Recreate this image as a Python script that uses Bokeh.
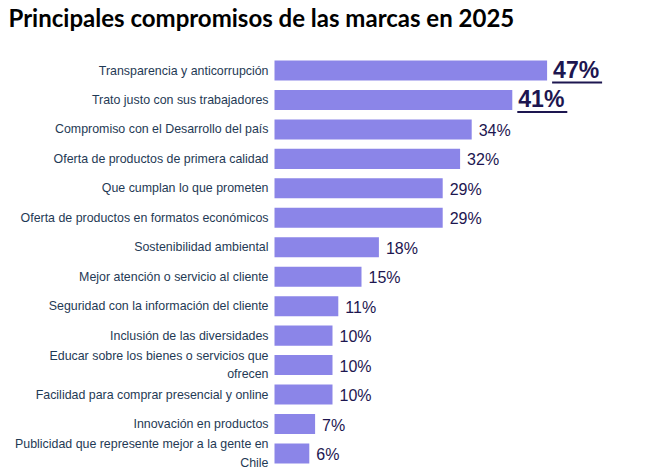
from bokeh.plotting import figure
from bokeh.models import Range1d, Label, ColumnDataSource
from bokeh.core.properties import value
from bokeh.embed import file_html
from bokeh.resources import INLINE

categories = [
    "Transparencia y anticorrupción",
    "Trato justo con sus trabajadores",
    "Compromiso con el Desarrollo del país",
    "Oferta de productos de primera calidad",
    "Que cumplan lo que prometen",
    "Oferta de productos en formatos económicos",
    "Sostenibilidad ambiental",
    "Mejor atención o servicio al cliente",
    "Seguridad con la información del cliente",
    "Inclusión de las diversidades",
    "Educar sobre los bienes o servicios que\nofrecen",
    "Facilidad para comprar presencial y online",
    "Innovación en productos",
    "Publicidad que represente mejor a la gente en\nChile",
]
values = [47, 41, 34, 32, 29, 29, 18, 15, 11, 10, 10, 10, 7, 6]
highlight = [True, True] + [False] * 12
title_text = "Principales compromisos de las marcas en 2025"

W, H = 646, 470
px_per_pct = 5.8
x0_px = 274
row_px = 29.46
row0_px = 70

p = figure(width=W, height=H, output_backend="svg", toolbar_location=None,
           min_border=0, min_border_left=0, min_border_right=0,
           min_border_top=0, min_border_bottom=0)
p.x_range = Range1d(-x0_px / px_per_pct, (W - x0_px) / px_per_pct)
p.y_range = Range1d((H - row0_px) / row_px, -row0_px / row_px)
p.axis.visible = False
p.grid.visible = False
p.outline_line_color = None
p.background_fill_color = "white"
p.border_fill_color = "white"

rows = list(range(len(categories)))
src = ColumnDataSource(dict(y=rows, v=values, cat=categories))
p.hbar(y="y", left=0, right="v", height=0.68, source=src,
       fill_color="#8b85e8", line_color=None)

p.text(x=0, y="y", text="cat", source=src, x_offset=-6,
       text_align="right", text_baseline="middle",
       text_font=value("Liberation Sans"), text_font_size="12.4px",
       text_color="#1f3a55", text_line_height=1.3)

norm_idx = [i for i in rows if not highlight[i]]
hi_idx = [i for i in rows if highlight[i]]
nsrc = ColumnDataSource(dict(y=[rows[i] for i in norm_idx],
                             v=[values[i] for i in norm_idx],
                             lab=[f"{values[i]}%" for i in norm_idx]))
hsrc = ColumnDataSource(dict(y=[rows[i] for i in hi_idx],
                             v=[values[i] for i in hi_idx],
                             lab=[f"{values[i]}%" for i in hi_idx]))
p.text(x="v", y="y", text="lab", source=nsrc, x_offset=7, y_offset=1,
       text_align="left", text_baseline="middle",
       text_font=value("Liberation Sans"), text_font_size="16px",
       text_color="#1d1650")
p.text(x="v", y="y", text="lab", source=hsrc, x_offset=6, y_offset=-1,
       text_align="left", text_baseline="middle",
       text_font=value("Liberation Sans"), text_font_size="23px",
       text_font_style="bold", text_color="#1d1650")
# underline for highlighted values
ul_w = 50 / px_per_pct
ul_off = 5 / px_per_pct
p.segment(x0=[values[i] + ul_off for i in hi_idx],
          y0=[rows[i] + 12 / row_px for i in hi_idx],
          x1=[values[i] + ul_off + ul_w for i in hi_idx],
          y1=[rows[i] + 12 / row_px for i in hi_idx],
          line_color="#1d1650", line_width=2)

p.add_layout(Label(x=8, y=H - 31, x_units="screen", y_units="screen",
                   text=title_text, text_font="Lato", text_font_style="bold",
                   text_font_size="24px", text_color="black"))

open("out.html", "w").write(file_html(p, INLINE))
